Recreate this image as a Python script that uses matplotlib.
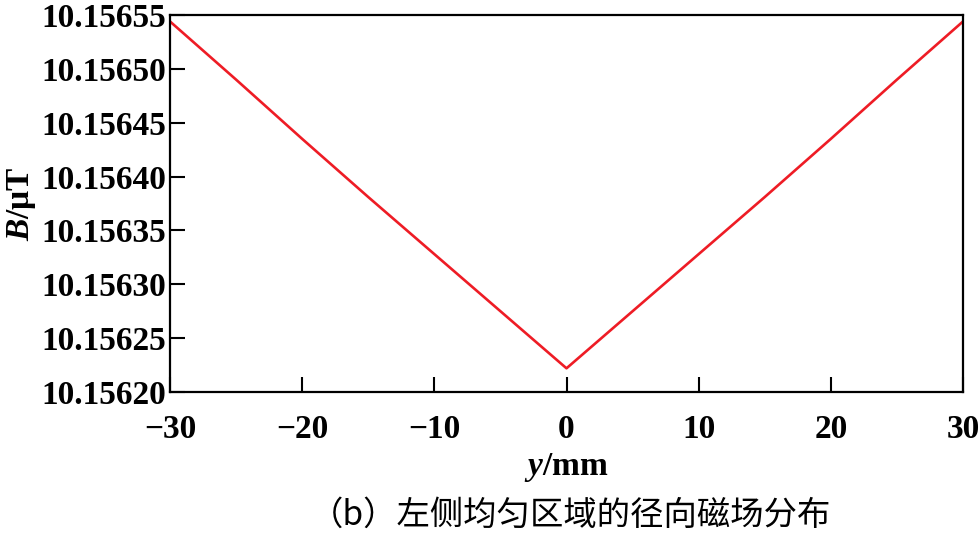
import matplotlib
matplotlib.use("Agg")
import matplotlib.pyplot as plt

# radial field across the left uniform region
y_mm = [-30, -25, -20, -15, -10, -5, 0, 5, 10, 15, 20, 25, 30]
B_uT = [10.156544, 10.156490, 10.156435, 10.156381, 10.156328, 10.156275,
        10.156222,
        10.156275, 10.156328, 10.156381, 10.156435, 10.156490, 10.156544]

xticks = [-30, -20, -10, 0, 10, 20, 30]
yticks = [10.15620, 10.15625, 10.15630, 10.15635, 10.15640, 10.15645, 10.15650, 10.15655]

plt.rcParams['font.family'] = ['Liberation Serif', 'DejaVu Serif']
plt.rcParams['font.weight'] = 'bold'
plt.rcParams['axes.labelweight'] = 'bold'
plt.rcParams['mathtext.fontset'] = 'custom'
plt.rcParams['mathtext.it'] = 'Liberation Serif:italic:bold'
plt.rcParams['mathtext.rm'] = 'Liberation Serif:bold'

fig = plt.figure(figsize=(9.8, 5.37), dpi=100)
ax = fig.add_axes([170/980, 1 - 392/537, (963-170)/980, (392-15)/537])

ax.plot(y_mm, B_uT, color='#ee1c25', lw=1.9)

ax.set_xlim(-30, 30)
ax.set_ylim(10.15620, 10.15655)
ax.set_xticks(xticks)
ax.set_xticklabels([str(t).replace('-', '\u2212') for t in xticks])
ax.set_yticks(yticks)
ax.set_yticklabels([f"{t:.5f}" for t in yticks])

for s in ax.spines.values():
    s.set_linewidth(1.6)
ax.tick_params(direction='in', length=11, width=1.5, labelsize=24, pad=3,
               top=False, right=False)
ax.tick_params(axis='x', pad=16)

ax.set_xlabel(r'$\mathit{y}$/mm', fontsize=24, labelpad=4)
ax.set_ylabel(r'$\mathit{B}$/μT', fontsize=24, labelpad=2)

fig.text(0.582, 0.022, '（b）左侧均匀区域的径向磁场分布', ha='center', va='baseline',
         fontsize=24, fontweight='normal', family=['Noto Sans CJK SC', 'DejaVu Sans'])

fig.savefig('out.png', dpi=100)
